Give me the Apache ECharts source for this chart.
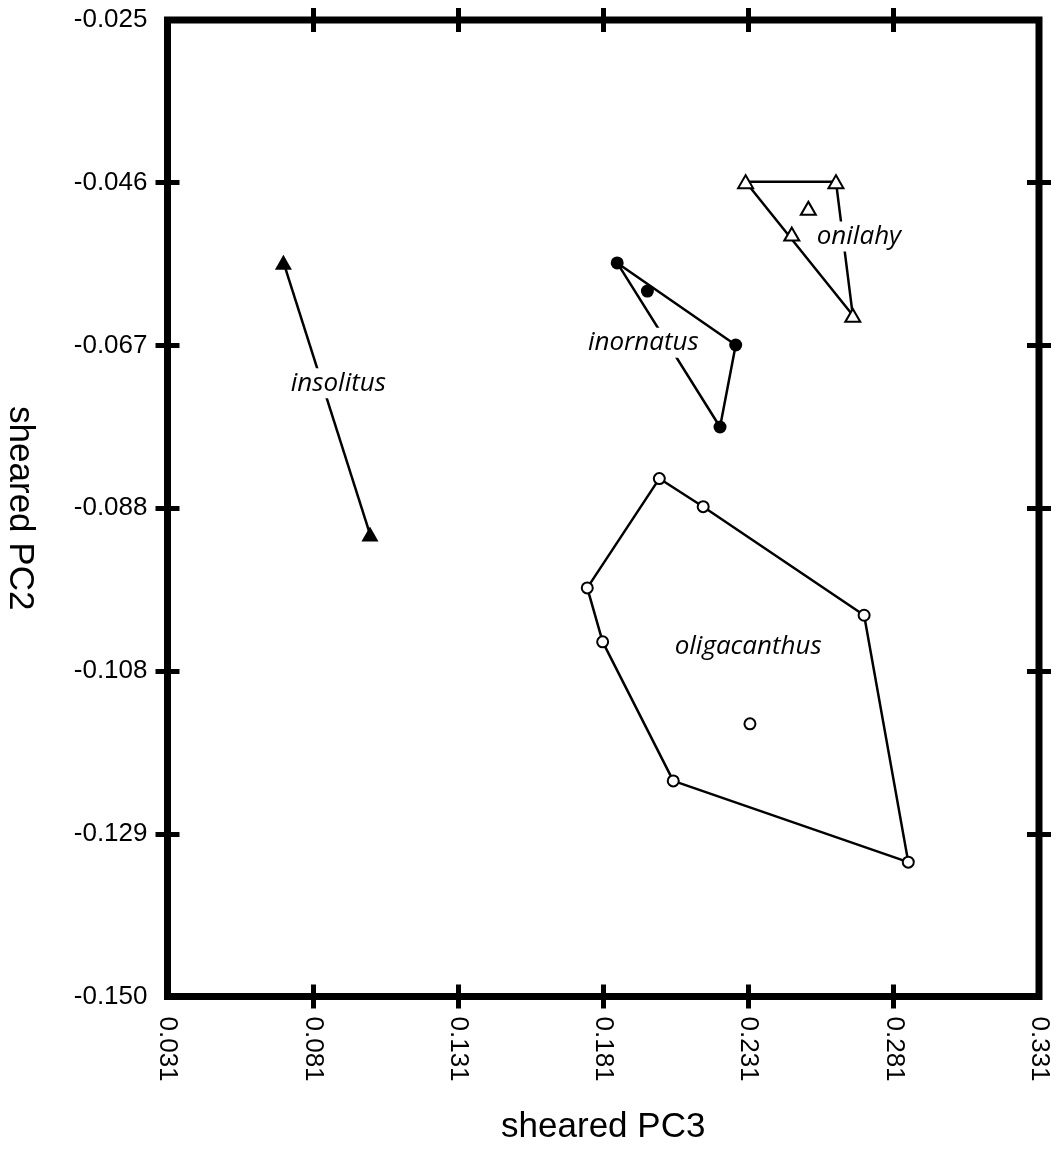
<!DOCTYPE html>
<html>
<head>
<meta charset="utf-8">
<script src="https://cdn.jsdelivr.net/npm/echarts@6/dist/echarts.min.js"></script>
<style>
html,body{margin:0;padding:0;background:#fff;}
#chart{width:1060px;height:1152px;}
</style>
</head>
<body>
<div id="chart"></div>
<script>
// ---- data ----
const xTicks = [0.031, 0.081, 0.131, 0.181, 0.231, 0.281, 0.331];
const yTicks = [-0.150, -0.1291667, -0.1083333, -0.0875, -0.0666667, -0.0458333, -0.025];
const yTickLabels = ['-0.150', '-0.129', '-0.108', '-0.088', '-0.067', '-0.046', '-0.025'];

const insolitusX = [0.0709, 0.1007];
const insolitusY = [-0.0560, -0.0908];
const insolitusHull = [0, 1];

const inornatusX = [0.1858, 0.1962, 0.2266, 0.2212];
const inornatusY = [-0.0561, -0.0597, -0.0666, -0.0771];
const inornatusHull = [0, 2, 3, 0];

const onilahyX = [0.2300, 0.2611, 0.2516, 0.2459, 0.2669];
const onilahyY = [-0.0457, -0.0457, -0.0491, -0.0524, -0.0628];
const onilahyHull = [0, 1, 4, 0];

const oligacanthusX = [0.2003, 0.2154, 0.1755, 0.1808, 0.2708, 0.2315, 0.2051, 0.2860];
const oligacanthusY = [-0.0837, -0.0873, -0.0977, -0.1046, -0.1012, -0.1151, -0.1224, -0.1328];
const oligacanthusHull = [0, 1, 4, 7, 6, 3, 2, 0];

const groupNames = ['insolitus', 'inornatus', 'onilahy', 'oligacanthus'];
const groupLabelX = [0.0898, 0.1948, 0.2690, 0.2309];
const groupLabelY = [-0.0715, -0.0663, -0.0527, -0.1052];

// ---- build ----
const X_MIN = 0.031, X_MAX = 0.331, Y_MIN = -0.150, Y_MAX = -0.025;
const innerX = xTicks.slice(1, -1);
const innerY = yTicks.slice(1, -1);
const FONT = '"Liberation Sans", Arial, Helvetica, sans-serif';

function pts(xs, ys) { return xs.map((x, i) => [x, ys[i]]); }
function hull(xs, ys, idx) { return idx.map(i => [xs[i], ys[i]]); }

function tickAxis(kind, position, inside, withLabels) {
  const isX = kind === 'x';
  const ax = {
    type: 'value',
    position: position,
    min: isX ? X_MIN : Y_MIN,
    max: isX ? X_MAX : Y_MAX,
    axisLine: { show: false },
    splitLine: { show: false },
    axisTick: {
      show: true, inside: inside, length: 12,
      customValues: isX ? innerX : innerY,
      lineStyle: { color: '#000', width: 5 }
    },
    axisLabel: { show: false }
  };
  if (withLabels) {
    ax.axisLabel = {
      show: true,
      customValues: isX ? xTicks : yTicks,
      color: '#000',
      fontSize: 26,
      fontFamily: FONT,
      margin: 20,
      rotate: isX ? -90 : 0,
      formatter: function (v) {
        if (isX) return v.toFixed(3);
        let best = 0;
        yTicks.forEach((t, i) => { if (Math.abs(t - v) < Math.abs(yTicks[best] - v)) best = i; });
        return yTickLabels[best];
      }
    };
    ax.name = isX ? 'sheared PC3' : 'sheared PC2';
    ax.nameLocation = 'middle';
    ax.nameGap = isX ? 113 : 130;
    ax.nameRotate = isX ? 0 : -90;
    ax.nameTextStyle = { color: '#000', fontSize: 35, fontFamily: FONT };
  }
  return ax;
}

const chart = echarts.init(document.getElementById('chart'), null, { renderer: 'canvas' });

const lineStyle = { color: '#000', width: 2.5, opacity: 1 };

const option = {
  backgroundColor: '#fff',
  animation: false,
  grid: {
    left: 167.5, top: 20, width: 871.5, height: 976.5,
    containLabel: false, outerBoundsMode: 'none',
    show: true, borderColor: '#000', borderWidth: 7, backgroundColor: 'transparent'
  },
  xAxis: [
    tickAxis('x', 'bottom', false, true),
    tickAxis('x', 'bottom', true, false),
    tickAxis('x', 'top', false, false),
    tickAxis('x', 'top', true, false)
  ],
  yAxis: [
    tickAxis('y', 'left', false, true),
    tickAxis('y', 'left', true, false),
    tickAxis('y', 'right', false, false),
    tickAxis('y', 'right', true, false)
  ],
  series: [
    { type: 'line', data: hull(insolitusX, insolitusY, insolitusHull), symbol: 'none', lineStyle, z: 2 },
    { type: 'line', data: hull(inornatusX, inornatusY, inornatusHull), symbol: 'none', lineStyle, z: 2 },
    { type: 'line', data: hull(onilahyX, onilahyY, onilahyHull), symbol: 'none', lineStyle, z: 2 },
    { type: 'line', data: hull(oligacanthusX, oligacanthusY, oligacanthusHull), symbol: 'none', lineStyle, z: 2 },
    { type: 'scatter', name: 'insolitus', data: pts(insolitusX, insolitusY), symbol: 'triangle', symbolSize: [17, 15],
      itemStyle: { color: '#000', opacity: 1 }, z: 3 },
    { type: 'scatter', name: 'inornatus', data: pts(inornatusX, inornatusY), symbol: 'circle', symbolSize: 13,
      itemStyle: { color: '#000', opacity: 1 }, z: 3 },
    { type: 'scatter', name: 'onilahy', data: pts(onilahyX, onilahyY), symbol: 'triangle', symbolSize: [15, 13],
      itemStyle: { color: '#fff', borderColor: '#000', borderWidth: 2, opacity: 1 }, z: 3 },
    { type: 'scatter', name: 'oligacanthus', data: pts(oligacanthusX, oligacanthusY), symbol: 'circle', symbolSize: 11,
      itemStyle: { color: '#fff', borderColor: '#000', borderWidth: 2, opacity: 1 }, z: 3 },
    { type: 'scatter', symbolSize: 0, z: 5,
      itemStyle: { opacity: 1 },
      data: groupNames.map((n, i) => ({ name: n, value: [groupLabelX[i], groupLabelY[i]] })),
      label: {
        show: true, position: 'inside', formatter: '{b}',
        color: '#000', opacity: 1, fontSize: 26, fontStyle: 'italic', fontFamily: '"Open Sans", "Noto Sans", sans-serif',
        backgroundColor: '#fff', padding: [2, 4]
      }
    }
  ]
};
chart.setOption(option);
</script>
</body>
</html>
